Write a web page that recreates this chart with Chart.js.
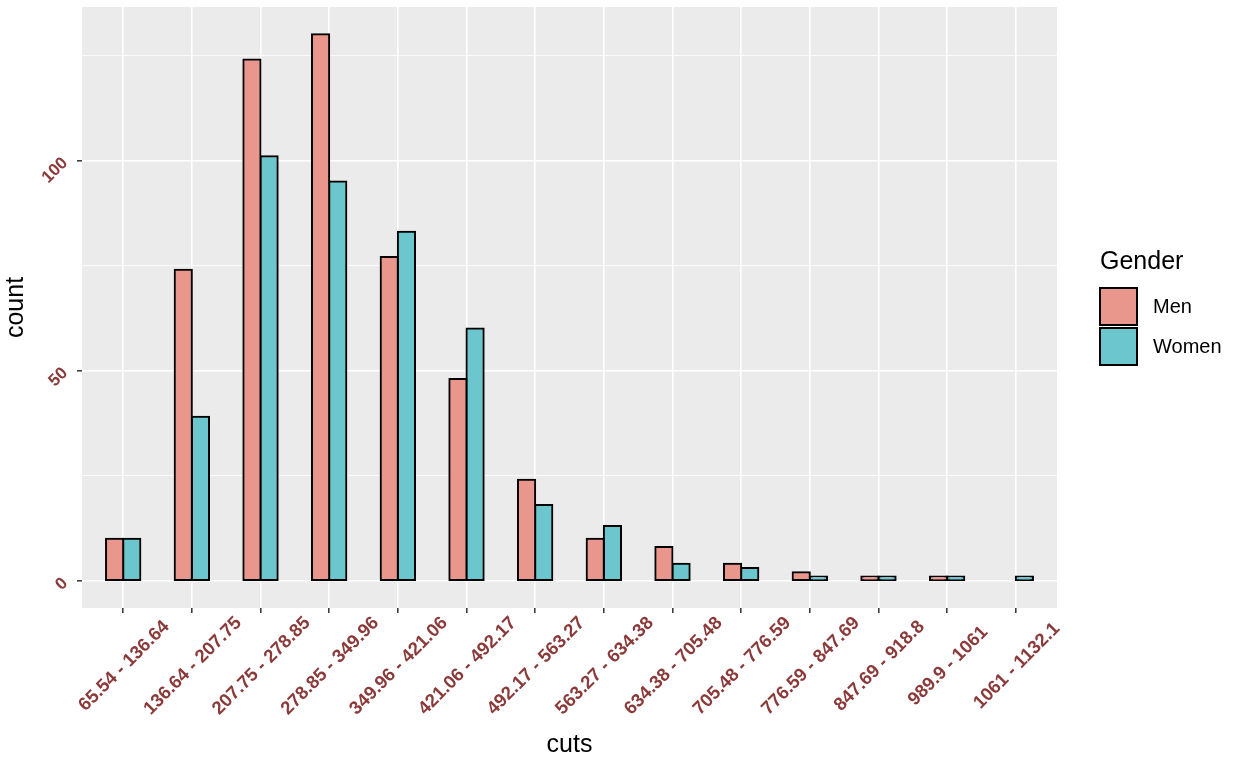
<!DOCTYPE html>
<html><head><meta charset="utf-8">
<script src="https://cdn.jsdelivr.net/npm/chart.js@4.4.1/dist/chart.umd.min.js"></script>
<style>html,body{margin:0;padding:0;background:#fff}#wrap{width:1235px;height:764px;position:relative}</style>
</head><body><div id="wrap"><canvas id="c" width="1235" height="764"></canvas></div>
<script>
const categories = ["65.54 - 136.64","136.64 - 207.75","207.75 - 278.85","278.85 - 349.96","349.96 - 421.06","421.06 - 492.17","492.17 - 563.27","563.27 - 634.38","634.38 - 705.48","705.48 - 776.59","776.59 - 847.69","847.69 - 918.8","989.9 - 1061","1061 - 1132.1"];
const men   = [10, 74, 124, 130, 77, 48, 24, 10, 8, 4, 2, 1, 1, null];
const women = [10, 39, 101,  95, 83, 60, 18, 13, 4, 3, 1, 1, 1, 1];
const seriesNames = ["Men", "Women"];
const yMajorTicks = [0, 50, 100];
const yMinorTicks = [25, 75, 125];

const FONT = "'Liberation Sans', Arial, Helvetica, sans-serif";
const menColor = "#E9968D";
const womenColor = "#6CC6CD";
const tickColor = "#8B3A3A";

const panelBg = {
  id: 'panelBg',
  beforeDraw(chart) {
    const {ctx, chartArea: a} = chart;
    ctx.save();
    ctx.fillStyle = '#EBEBEB';
    ctx.fillRect(a.left, a.top, a.right - a.left, a.bottom - a.top);
    ctx.restore();
  }
};

// x tick labels rotated 45deg and centred on their tick (ggplot hjust = 0.5)
const centredXLabels = {
  id: 'centredXLabels',
  afterDraw(chart) {
    const ctx = chart.ctx;
    const xs = chart.scales.x;
    ctx.save();
    ctx.fillStyle = tickColor;
    ctx.font = 'bold 18.5px ' + FONT;
    ctx.textAlign = 'center';
    ctx.textBaseline = 'middle';
    xs.ticks.forEach(t => {
      const label = categories[t.value];
      const px = xs.getPixelForValue(t.value);
      ctx.save();
      ctx.translate(px + 1, 666);
      ctx.rotate(-Math.PI / 4);
      ctx.fillText(label, 0, 0);
      ctx.restore();
    });
    ctx.restore();
  }
};

const ggLegend = {
  id: 'ggLegend',
  afterDraw(chart) {
    const ctx = chart.ctx;
    ctx.save();
    ctx.fillStyle = '#000';
    ctx.font = '25px ' + FONT;
    ctx.textAlign = 'left';
    ctx.textBaseline = 'alphabetic';
    ctx.fillText('Gender', 1100, 269);
    chart.data.datasets.forEach((ds, i) => {
      const y = 288 + i * 40;
      ctx.fillStyle = ds.backgroundColor;
      ctx.fillRect(1100, y, 37, 37);
      ctx.strokeStyle = '#000';
      ctx.lineWidth = 2;
      ctx.strokeRect(1100, y, 37, 37);
      ctx.fillStyle = '#000';
      ctx.font = '20px ' + FONT;
      ctx.textBaseline = 'middle';
      ctx.fillText(ds.label, 1153, y + 19);
    });
    ctx.restore();
  }
};

const toPts = arr => arr.map((v, i) => ({x: i, y: v}));

new Chart(document.getElementById('c'), {
  type: 'bar',
  data: {
    datasets: [
      {label: seriesNames[0], data: toPts(men), backgroundColor: menColor, borderColor: '#000', borderWidth: 2, inflateAmount: 1, borderSkipped: false},
      {label: seriesNames[1], data: toPts(women), backgroundColor: womenColor, borderColor: '#000', borderWidth: 2, inflateAmount: 1, borderSkipped: false}
    ]
  },
  options: {
    responsive: false,
    animation: false,
    categoryPercentage: 0.5,
    barPercentage: 1.0,
    layout: {padding: {top: 7, right: 178, left: 0, bottom: 0}},
    plugins: {legend: {display: false}, tooltip: {enabled: false}},
    scales: {
      x: {
        type: 'linear',
        min: -0.6, max: categories.length - 0.4,
        offset: false,
        afterBuildTicks(scale) { scale.ticks = categories.map((_, i) => ({value: i})); },
        afterFit(scale) { scale.height = 156; scale.paddingLeft = 0; scale.paddingRight = 0; },
        border: {display: false},
        grid: {offset: false, color: '#FFFFFF', lineWidth: 1.6, tickColor: '#333333', tickLength: 5, tickWidth: 1.5, drawTicks: true},
        ticks: {display: false, autoSkip: false, callback: v => categories[v]},
        title: {display: true, text: 'cuts', color: '#000', font: {family: FONT, size: 25}, padding: {top: 0, bottom: 4}}
      },
      y: {
        type: 'linear',
        min: -6.5, max: 136.5,
        afterBuildTicks(scale) {
          scale.ticks = yMajorTicks.concat(yMinorTicks).sort((a, b) => a - b).map(v => ({value: v}));
        },
        afterFit(scale) { scale.width = 82; scale.paddingTop = 0; scale.paddingBottom = 0; },
        border: {display: false},
        grid: {
          offset: false,
          color: '#FFFFFF',
          lineWidth: c => yMajorTicks.includes(c.tick && c.tick.value) ? 1.6 : 0.8,
          tickColor: c => yMajorTicks.includes(c.tick && c.tick.value) ? '#333333' : 'rgba(0,0,0,0)',
          tickLength: 5, tickWidth: 1.5
        },
        ticks: {
          minRotation: 45, maxRotation: 45, padding: 12,
          color: tickColor, font: {family: FONT, size: 17, weight: 'bold'},
          callback: v => yMajorTicks.includes(v) ? String(v) : ''
        },
        title: {display: true, text: 'count', color: '#000', font: {family: FONT, size: 25}, padding: {top: 1, bottom: 0}}
      }
    }
  },
  plugins: [panelBg, centredXLabels, ggLegend]
});
</script>
</body></html>
